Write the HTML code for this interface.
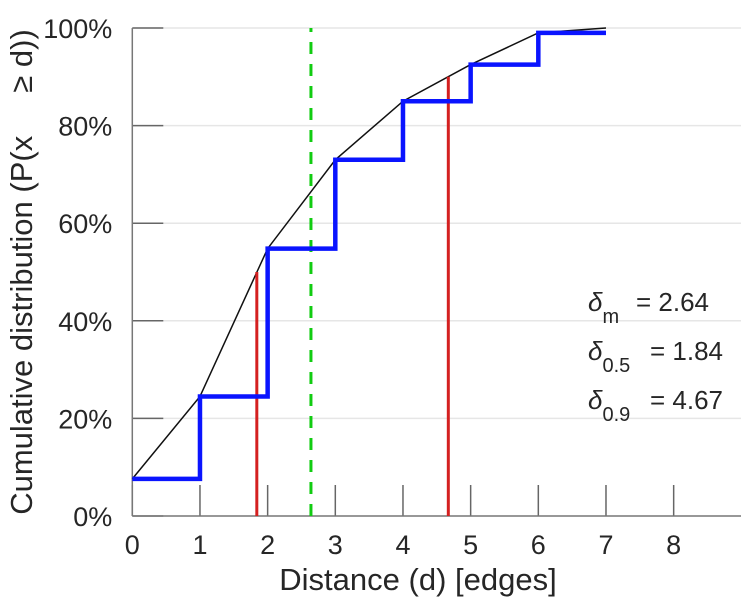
<!DOCTYPE html>
<html><head><meta charset="utf-8"><style>
body{margin:0;background:#fff;}
svg text{font-family:"Liberation Sans",sans-serif;fill:#262626;}
</style></head><body>
<svg id="chart" width="749" height="600" xmlns="http://www.w3.org/2000/svg">
<g id="grid"></g>
<g id="axes"></g>
<g id="marks"></g>
<text x="418" y="590" font-size="31" text-anchor="middle">Distance (d) [edges]</text>
<text transform="translate(32,272) rotate(-90)" font-size="31" text-anchor="middle" style="white-space:pre">Cumulative distribution (P(x     ≥ d))</text>
<g font-size="26">
<text x="588" y="311"><tspan font-style="italic">δ</tspan><tspan font-size="20" dy="12">m</tspan></text>
<text x="636" y="311">= 2.64</text>
<text x="588" y="360"><tspan font-style="italic">δ</tspan><tspan font-size="20" dy="12">0.5</tspan></text>
<text x="650" y="360">= 1.84</text>
<text x="588" y="409"><tspan font-style="italic">δ</tspan><tspan font-size="20" dy="12">0.9</tspan></text>
<text x="650" y="409">= 4.67</text>
</g>
</svg>
<script>
const distances=[0,1,2,3,4,5,6,7];
const stepValues=[7.6,24.5,54.8,73,85,92.5,99];
const curveValues=[7.6,24.5,54.8,73,85,92.5,99,100];
const medianX=1.84, medianY=50;
const p90X=4.67, p90Y=90;
const meanX=2.64;
const xTicks=[0,1,2,3,4,5,6,7,8];
const yTicks=[0,20,40,60,80,100];
const X=v=>132.3+v*67.67;
const Y=v=>516-v*4.88;
const NS="http://www.w3.org/2000/svg";
function mk(parent,tag,attrs){const e=document.createElementNS(NS,tag);for(const k in attrs)e.setAttribute(k,attrs[k]);document.getElementById(parent).appendChild(e);return e;}
yTicks.forEach(t=>{
 if(t>0){const g=mk('grid','line',{x1:X(0),x2:741,y1:Y(t),y2:Y(t),stroke:'#e6e6e6','stroke-width':1.5});
 
 }
 const tk=mk('axes','line',{x1:X(0),x2:X(0)+31,y1:Y(t),y2:Y(t),stroke:'#666','stroke-width':1.5});
 
 
 const l=mk('axes','text',{x:X(0)-20,y:Y(t)+10,'font-size':27,'text-anchor':'end'});
 l.textContent=t+'%';
 
 
});
xTicks.forEach(t=>{
 const tk=mk('axes','line',{x1:X(t),x2:X(t),y1:Y(0),y2:Y(0)-31,stroke:'#666','stroke-width':1.5});
 
 
 const l=mk('axes','text',{x:X(t),y:554,'font-size':27,'text-anchor':'middle'});
 l.textContent=t;
 
 
});
const xa=mk('axes','line',{x1:X(0),x2:741,y1:Y(0),y2:Y(0),stroke:'#777','stroke-width':1.5});


const ya=mk('axes','line',{x1:X(0),x2:X(0),y1:Y(0),y2:Y(100),stroke:'#777','stroke-width':1.5});


const cp=mk('marks','polyline',{points:curveValues.map((v,i)=>X(distances[i])+','+Y(v)).join(' '),fill:'none',stroke:'#111','stroke-width':1.5});


[[medianX,medianY,'median-line'],[p90X,p90Y,'p90-line']].forEach(([x,y,n])=>{
 const r=mk('marks','line',{x1:X(x),x2:X(x),y1:Y(0),y2:Y(y),stroke:'#d42020','stroke-width':3});
 
 
});
const g=mk('marks','line',{x1:X(meanX),x2:X(meanX),y1:Y(0),y2:Y(100),stroke:'#11cc11','stroke-width':3,'stroke-dasharray':'12,10'});


let pts=[];
stepValues.forEach((v,i)=>{pts.push(X(distances[i])+','+Y(v));pts.push(X(distances[i+1])+','+Y(v));});
const sp=mk('marks','polyline',{points:pts.join(' '),fill:'none',stroke:'#0a14ff','stroke-width':4.5});


</script>
</body></html>
